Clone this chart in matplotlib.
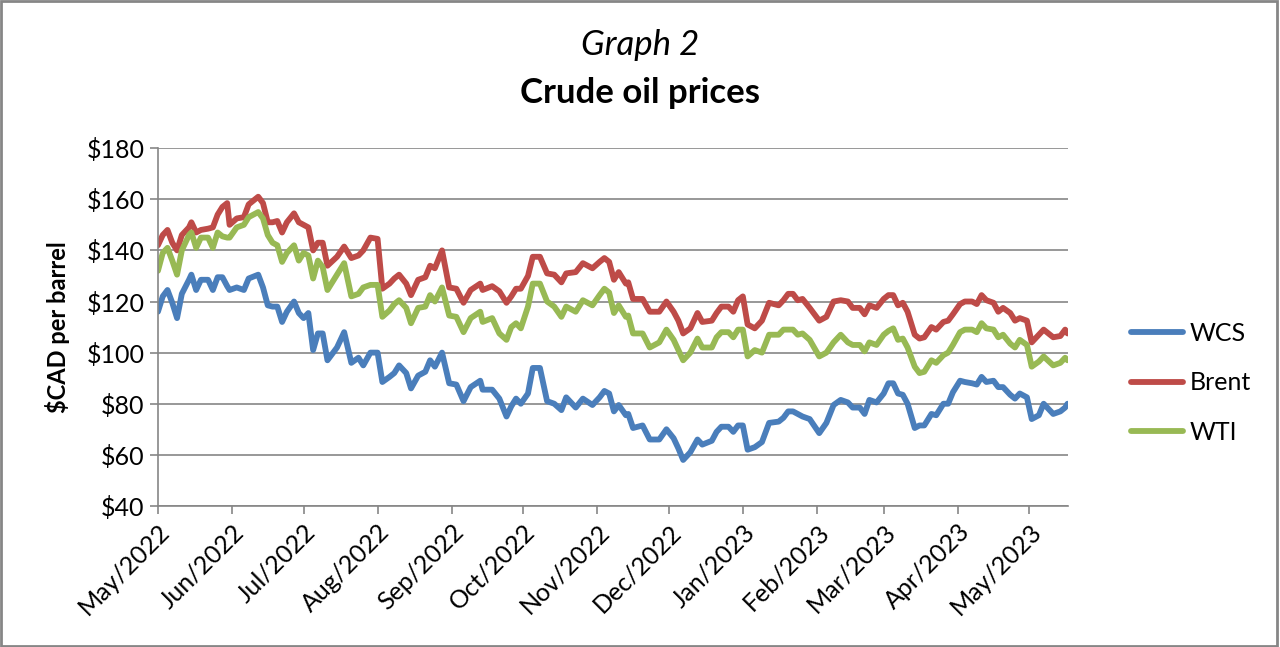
import pandas as pd
import matplotlib.pyplot as plt
import matplotlib.dates as mdates
from matplotlib.ticker import FuncFormatter

plt.rcParams['font.family'] = ['Lato', 'DejaVu Sans']

dates = [
    '2022-05-01', '2022-05-03', '2022-05-05', '2022-05-07', '2022-05-09', '2022-05-11',
    '2022-05-14', '2022-05-15', '2022-05-17', '2022-05-19', '2022-05-22', '2022-05-24',
    '2022-05-26', '2022-05-28', '2022-05-30', '2022-05-31', '2022-06-03', '2022-06-06',
    '2022-06-08', '2022-06-12', '2022-06-14', '2022-06-16', '2022-06-18', '2022-06-20',
    '2022-06-22', '2022-06-24', '2022-06-27', '2022-06-29', '2022-07-01', '2022-07-03',
    '2022-07-05', '2022-07-07', '2022-07-09', '2022-07-11', '2022-07-15', '2022-07-18',
    '2022-07-21', '2022-07-24', '2022-07-26', '2022-07-29', '2022-08-01', '2022-08-03',
    '2022-08-06', '2022-08-08', '2022-08-10', '2022-08-13', '2022-08-15', '2022-08-18',
    '2022-08-21', '2022-08-23', '2022-08-25', '2022-08-28', '2022-08-31', '2022-09-03',
    '2022-09-06', '2022-09-09', '2022-09-13', '2022-09-14', '2022-09-18', '2022-09-21',
    '2022-09-24', '2022-09-26', '2022-09-28', '2022-09-30', '2022-10-03', '2022-10-05',
    '2022-10-08', '2022-10-11', '2022-10-14', '2022-10-17', '2022-10-19', '2022-10-23',
    '2022-10-26', '2022-10-30', '2022-11-02', '2022-11-04', '2022-11-06', '2022-11-08',
    '2022-11-10', '2022-11-13', '2022-11-14', '2022-11-16', '2022-11-20', '2022-11-23',
    '2022-11-27', '2022-11-30', '2022-12-03', '2022-12-05', '2022-12-07', '2022-12-10',
    '2022-12-13', '2022-12-15', '2022-12-19', '2022-12-21', '2022-12-23', '2022-12-26',
    '2022-12-28', '2022-12-30', '2023-01-01', '2023-01-03', '2023-01-06', '2023-01-09',
    '2023-01-12', '2023-01-16', '2023-01-18', '2023-01-20', '2023-01-22', '2023-01-24',
    '2023-01-26', '2023-01-29', '2023-02-02', '2023-02-05', '2023-02-08', '2023-02-11',
    '2023-02-14', '2023-02-16', '2023-02-19', '2023-02-21', '2023-02-23', '2023-02-26',
    '2023-03-01', '2023-03-03', '2023-03-05', '2023-03-07', '2023-03-09', '2023-03-11',
    '2023-03-14', '2023-03-16', '2023-03-18', '2023-03-21', '2023-03-23', '2023-03-26',
    '2023-03-28', '2023-03-30', '2023-04-02', '2023-04-04', '2023-04-07', '2023-04-09',
    '2023-04-11', '2023-04-13', '2023-04-16', '2023-04-18', '2023-04-20', '2023-04-23',
    '2023-04-25', '2023-04-27', '2023-04-30', '2023-05-02', '2023-05-05', '2023-05-07',
    '2023-05-11', '2023-05-14', '2023-05-16', '2023-05-17',
]

brent = [
    142, 146, 148, 143, 140, 146, 149, 151, 147, 148, 148.5, 149,
    154, 157, 158.5, 150, 152.5, 153, 158, 161, 158.5, 151, 151, 151.5,
    147, 151, 154.5, 151, 150, 149, 140, 143, 143, 134, 137.5, 141.5,
    137, 138, 140, 145, 144.5, 125, 127, 129, 130.5, 127, 122.5, 128.5,
    129.5, 134, 133, 140, 125.5, 125, 119.5, 124.5, 127, 124.5, 126, 124,
    119.5, 122, 125, 125, 130, 137.5, 137.5, 131, 130.5, 127.5, 131, 131.5,
    135, 133, 135.5, 137, 135.5, 128.5, 131.5, 127, 127.5, 121, 121, 116,
    116, 120, 116, 112.5, 107.5, 109.5, 115.5, 112, 112.5, 115.5, 118, 118,
    116, 120.5, 122, 111, 109.5, 112.5, 119.5, 118.5, 120.5, 123, 123, 120.5,
    121, 117.5, 112.5, 114, 120, 120.5, 120, 117.5, 117.5, 115, 118.5, 117.5,
    121, 122.5, 122.5, 118.5, 119.5, 116, 107, 105.5, 106, 110, 109, 112,
    112.5, 115, 119, 120, 120, 119, 122.5, 120.5, 119.5, 116, 117.5, 115.5,
    112.5, 113.5, 112.5, 104, 107, 109, 106, 106.5, 109, 107.5,
]

wti = [
    132, 139, 141, 136, 130.5, 140, 146, 147, 141, 145, 145, 141,
    147, 145.5, 145, 145, 149, 150, 153, 155, 152.5, 146, 143, 142,
    135.5, 139, 142, 136, 139, 138, 129, 136, 133.5, 124.5, 130.5, 135,
    122, 123, 125.5, 126.5, 126.5, 114, 116.5, 119, 120.5, 117.5, 111.5, 117.5,
    118, 122.5, 120, 125.5, 114.5, 114, 108, 113.5, 116, 112, 113.5, 107.5,
    105, 110, 111.5, 109.5, 118, 127, 127, 120, 118, 114, 118, 116,
    120.5, 118.5, 122.5, 125, 123.5, 115.5, 118.5, 114, 114.5, 107.5, 107.5, 102,
    104, 109, 105, 101, 97, 100, 105.5, 102, 102, 106, 108, 108,
    106, 109, 109, 98.5, 101, 100, 107, 107, 109, 109, 109, 107,
    107.5, 105, 98.5, 100, 104, 107, 104, 103, 103, 100.5, 104, 103,
    107, 108.5, 109.5, 105, 105.5, 102, 94.5, 92, 92.5, 97, 96, 99,
    100, 103, 108, 109, 109, 108, 111.5, 109.5, 109, 106, 107, 103.5,
    102, 105, 103, 94.5, 96.5, 98.5, 95, 96, 98, 97,
]

wcs = [
    116, 122, 124.5, 119.5, 113.5, 123, 128.5, 130.5, 124.5, 128.5, 128.5, 124.5,
    129.5, 129.5, 126, 124.5, 125.5, 124.5, 129, 130.5, 125.5, 118.5, 118, 118,
    112, 116, 120, 115.5, 113.5, 115.5, 101, 107.5, 107.5, 97, 102, 108,
    96, 98, 95, 100, 100, 88.5, 90.5, 92, 95, 92, 86, 91,
    92.5, 97, 94.5, 100, 88, 87.5, 81, 86.5, 89, 85.5, 85.5, 82,
    75, 79, 82, 80, 84, 94, 94, 81, 80, 77.5, 82.5, 78.5,
    82, 79.5, 82.5, 85, 84, 77, 79.5, 75.5, 76, 70.5, 71.5, 66,
    66, 70, 66.5, 62.5, 58, 61, 66, 64, 65.5, 69, 71, 71,
    69, 71.5, 71.5, 62, 63, 65, 72.5, 73, 74.5, 77, 77, 76,
    75, 74, 68.5, 72.5, 79.5, 81.5, 80.5, 78.5, 78.5, 76, 81.5, 80.5,
    84, 88, 88, 84, 83.5, 80, 70.5, 71.5, 71.5, 76, 75.5, 80,
    80, 84.5, 89, 88.5, 88, 87.5, 90.5, 88.5, 89, 86.5, 86.5, 83.5,
    82, 84, 82.5, 74, 75.5, 80, 76, 77, 78.5, 80,
]

df = pd.DataFrame({'Date': pd.to_datetime(dates), 'WCS': wcs, 'Brent': brent, 'WTI': wti})

colors = {'WCS': '#4A7EBB', 'Brent': '#BE4B48', 'WTI': '#98B954'}
grey = '#868686'

fig = plt.figure(figsize=(12.8, 6.47), dpi=100)
ax = fig.add_axes([0.1234, 0.218, 0.7106, 0.553])

for name in ['WCS', 'Brent', 'WTI']:
    ax.plot(df['Date'], df[name], color=colors[name], lw=4.2, label=name,
            solid_joinstyle='round', solid_capstyle='round')

ax.set_ylim(40, 180)
ax.set_yticks(range(40, 181, 20))
ax.yaxis.set_major_formatter(FuncFormatter(lambda v, p: f'${v:.0f}'))
ax.set_xlim(pd.Timestamp('2022-05-01'), df['Date'].iloc[-1])
ax.xaxis.set_major_locator(mdates.MonthLocator())
ax.xaxis.set_major_formatter(mdates.DateFormatter('%b/%Y'))

ax.grid(axis='y', color=grey, lw=1.2)
ax.set_axisbelow(True)
for s in ['top', 'right']:
    ax.spines[s].set_visible(False)
for s in ['left', 'bottom']:
    ax.spines[s].set_color(grey)
    ax.spines[s].set_linewidth(1.2)
ax.tick_params(axis='both', color=grey, width=1.2, length=6, labelsize=18, direction='out')
ax.tick_params(axis='x', pad=4)
plt.setp(ax.get_xticklabels(), rotation=45, ha='right', rotation_mode='anchor')

ax.set_ylabel('$CAD per barrel', fontsize=17, fontweight='bold', labelpad=12)

fig.text(0.5, 0.93, 'Graph 2', ha='center', va='center', fontsize=25, style='italic')
fig.text(0.5, 0.857, 'Crude oil prices', ha='center', va='center', fontsize=25, fontweight='bold')

ax.legend(loc='center left', bbox_to_anchor=(1.045, 0.344), frameon=False, fontsize=18,
          handlelength=2.1, labelspacing=1.05, handletextpad=0.25)

fig.patches.append(plt.Rectangle((0.001, 0.002), 0.997, 0.996, transform=fig.transFigure,
                                 fill=False, edgecolor=grey, lw=2))

fig.savefig('out.png', dpi=100)
